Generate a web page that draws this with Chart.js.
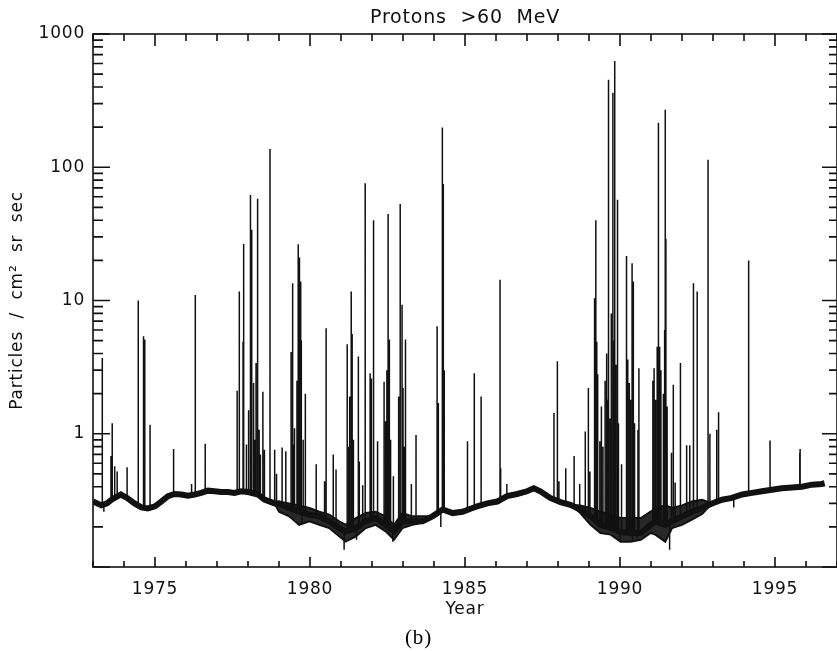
<!DOCTYPE html>
<html>
<head>
<meta charset="utf-8">
<script src="https://cdn.jsdelivr.net/npm/chart.js@4"></script>
<style>
  html, body { margin: 0; padding: 0; background: #fff; }
  #chart { display: block; }
</style>
</head>
<body>
<canvas id="chart" width="837" height="651"></canvas>
<script>
// quiet-time background flux (year, particles / cm2 sr sec)
const baseYears = [1973.0, 1973.27, 1973.45, 1973.6, 1973.9, 1974.1, 1974.34, 1974.56, 1974.77, 1975.0,
  1975.2, 1975.42, 1975.63, 1975.85, 1976.06, 1976.28, 1976.49, 1976.71, 1976.92, 1977.14,
  1977.35, 1977.56, 1977.78, 1978.0, 1978.32, 1978.53, 1978.86, 1979.0, 1979.33, 1979.65,
  1979.98, 1980.3, 1980.62, 1980.94, 1981.15, 1981.48, 1981.8, 1982.12, 1982.44, 1982.71,
  1982.98, 1983.3, 1983.63, 1983.95, 1984.28, 1984.6, 1984.92, 1985.2, 1985.39, 1985.72,
  1986.04, 1986.36, 1986.68, 1987.0, 1987.22, 1987.43, 1987.75, 1988.08, 1988.4, 1988.72,
  1989.05, 1989.37, 1989.7, 1990.02, 1990.34, 1990.67, 1990.99, 1991.14, 1991.46, 1991.68,
  1992.0, 1992.32, 1992.65, 1992.97, 1993.29, 1993.61, 1993.94, 1994.26, 1994.58, 1994.9,
  1995.22, 1995.55, 1995.87, 1996.19, 1996.51, 1996.6];
const baseValues = [0.31, 0.29, 0.30, 0.32, 0.35, 0.33, 0.30, 0.28, 0.275, 0.285,
  0.31, 0.34, 0.353, 0.35, 0.343, 0.35, 0.36, 0.374, 0.37, 0.365,
  0.365, 0.36, 0.37, 0.365, 0.35, 0.32, 0.30, 0.30, 0.277, 0.26,
  0.247, 0.24, 0.22, 0.196, 0.185, 0.196, 0.22, 0.233, 0.207, 0.185,
  0.22, 0.22, 0.22, 0.24, 0.27, 0.254, 0.26, 0.275, 0.285, 0.30,
  0.31, 0.34, 0.353, 0.37, 0.39, 0.37, 0.33, 0.307, 0.293, 0.27,
  0.24, 0.207, 0.196, 0.183, 0.18, 0.18, 0.207, 0.22, 0.207, 0.22,
  0.24, 0.26, 0.277, 0.30, 0.32, 0.33, 0.35, 0.36, 0.37, 0.38,
  0.39, 0.395, 0.40, 0.415, 0.42, 0.425];

// during the active years the background smears into a wide band: upper and lower edges
const band1Years = [1978.86, 1979.0, 1979.33, 1979.65, 1979.98, 1980.3, 1980.62, 1980.94, 1981.15,
  1981.48, 1981.8, 1982.12, 1982.44, 1982.71, 1982.98, 1983.3, 1983.63, 1983.95];
const band1High = [0.30, 0.31, 0.30, 0.29, 0.277, 0.26, 0.247, 0.22, 0.207,
  0.233, 0.254, 0.26, 0.24, 0.207, 0.254, 0.24, 0.24, 0.24];
const band1Low = [0.30, 0.26, 0.24, 0.207, 0.22, 0.207, 0.196, 0.17, 0.155,
  0.17, 0.196, 0.207, 0.185, 0.16, 0.196, 0.207, 0.215, 0.24];
const band2Years = [1988.4, 1988.72, 1989.05, 1989.37, 1989.7, 1990.02, 1990.34, 1990.67, 1990.99,
  1991.14, 1991.46, 1991.68, 1992.0, 1992.32, 1992.65, 1992.97];
const band2High = [0.293, 0.29, 0.277, 0.26, 0.247, 0.233, 0.233, 0.233, 0.26,
  0.277, 0.29, 0.277, 0.29, 0.31, 0.32, 0.30];
const band2Low = [0.293, 0.254, 0.207, 0.18, 0.175, 0.155, 0.155, 0.16, 0.18,
  0.175, 0.155, 0.196, 0.207, 0.227, 0.25, 0.30];

// solar particle events: time, peak value, flux at the foot of the spike
const spikeYears = [1973.30, 1973.35, 1973.58, 1973.62, 1973.70, 1973.78, 1974.10, 1974.46, 1974.63, 1974.67,
  1974.84, 1975.60, 1976.18, 1976.30, 1976.62,
  1977.65, 1977.72, 1977.84, 1977.86, 1977.95, 1978.08, 1978.12, 1978.26, 1978.31, 1978.36,
  1978.48, 1978.53, 1978.71, 1978.86, 1978.92, 1979.10, 1979.22, 1979.39, 1979.44, 1979.47,
  1979.62, 1979.66, 1979.70, 1979.72, 1979.74, 1979.85, 1980.20, 1980.47, 1980.52, 1980.75,
  1980.84, 1981.10, 1981.20, 1981.25, 1981.33, 1981.36, 1981.50, 1981.56, 1981.59, 1981.70,
  1981.78, 1981.94, 1981.98, 1982.05, 1982.18, 1982.39, 1982.44, 1982.52, 1982.56, 1982.67,
  1982.69, 1982.86, 1982.91, 1982.97, 1983.08, 1983.27, 1983.42,
  1984.10, 1984.14, 1984.22, 1984.27, 1984.30, 1984.33, 1985.08, 1985.30, 1985.52, 1986.13,
  1986.15, 1986.35, 1987.87, 1987.98, 1988.03, 1988.25, 1988.52, 1988.70, 1988.88, 1988.98,
  1989.03, 1989.18, 1989.22, 1989.25, 1989.35, 1989.45, 1989.52, 1989.63, 1989.68, 1989.77,
  1989.83, 1989.87, 1989.92, 1990.00, 1990.05, 1990.21, 1990.30, 1990.39, 1990.40, 1990.43,
  1990.55, 1990.58, 1990.61, 1991.06, 1991.10, 1991.20, 1991.24, 1991.28, 1991.46, 1991.48,
  1991.52, 1991.60, 1991.66, 1991.72, 1991.78, 1991.95, 1992.15, 1992.25, 1992.37, 1992.49,
  1992.84, 1992.90, 1993.12, 1993.18, 1993.67, 1994.15, 1994.84, 1995.80, 1995.81,
  // smaller spikes inside the busy periods
  1978.02, 1978.18, 1978.22, 1978.40, 1979.50, 1979.58, 1979.78, 1981.28, 1981.40, 1982.48,
  1982.60, 1983.00, 1983.04, 1989.20, 1989.28, 1989.40, 1989.57, 1989.60, 1989.72, 1989.80,
  1989.95, 1990.25, 1990.34, 1990.47, 1991.15, 1991.32, 1991.40, 1991.44];
const spikePeaks = [3.7, 0.26, 0.68, 1.2, 0.57, 0.52, 0.56, 10.0, 5.4, 5.1,
  1.17, 0.77, 0.42, 11.0, 0.84,
  2.1, 11.7, 4.9, 26.5, 0.83, 62, 34, 3.4, 58, 1.07,
  2.07, 0.76, 137, 0.76, 0.5, 0.79, 0.74, 4.1, 13.5, 0.83,
  26.4, 21, 13.9, 5.0, 0.21, 2.0, 0.59, 0.44, 6.2, 0.70,
  0.54, 0.135, 4.7, 0.8, 11.7, 5.6, 0.16, 3.8, 0.62, 0.41,
  76, 2.85, 2.6, 40, 0.88, 2.46, 1.24, 44.5, 5.1, 0.155,
  0.48, 1.9, 53, 9.3, 5.1, 0.42, 0.98,
  6.4, 1.7, 0.2, 199, 75, 3.0, 0.88, 2.85, 1.9, 14.3,
  0.55, 0.42, 1.43, 3.5, 0.44, 0.55, 0.68, 0.42, 1.04, 2.2,
  0.52, 10.4, 40, 4.9, 0.88, 0.8, 2.5, 453, 1.3, 363,
  628, 3.3, 57, 0.16, 0.59, 21.6, 2.4, 19, 0.16, 13.9,
  0.165, 1.07, 3.1, 2.5, 3.1, 4.5, 216, 4.5, 270, 29,
  1.6, 0.135, 0.72, 2.33, 0.43, 3.4, 0.82, 0.82, 13.5, 11.7,
  114, 1.0, 1.07, 1.45, 0.28, 20, 0.89, 0.72, 0.77,
  1.5, 2.4, 0.9, 0.7, 1.1, 2.5, 0.9, 1.9, 0.9, 3.0,
  0.9, 2.2, 0.8, 5.5, 2.8, 1.6, 4.0, 1.8, 8.0, 5.0,
  1.2, 3.6, 1.8, 1.2, 1.8, 3.0, 2.0, 6.0];
const spikeFeet = [0.30, 0.30, 0.32, 0.32, 0.33, 0.34, 0.33, 0.29, 0.28, 0.28,
  0.28, 0.35, 0.345, 0.35, 0.37,
  0.36, 0.36, 0.37, 0.37, 0.37, 0.36, 0.36, 0.35, 0.35, 0.35,
  0.33, 0.32, 0.31, 0.30, 0.30, 0.30, 0.29, 0.28, 0.28, 0.28,
  0.26, 0.26, 0.26, 0.26, 0.26, 0.25, 0.24, 0.23, 0.23, 0.21,
  0.20, 0.19, 0.185, 0.185, 0.19, 0.19, 0.20, 0.20, 0.20, 0.21,
  0.22, 0.23, 0.23, 0.23, 0.23, 0.21, 0.21, 0.20, 0.20, 0.185,
  0.185, 0.20, 0.21, 0.22, 0.22, 0.22, 0.22,
  0.24, 0.25, 0.25, 0.27, 0.27, 0.27, 0.26, 0.28, 0.29, 0.31,
  0.31, 0.34, 0.32, 0.31, 0.31, 0.30, 0.28, 0.27, 0.255, 0.245,
  0.24, 0.23, 0.225, 0.22, 0.21, 0.205, 0.20, 0.197, 0.196, 0.19,
  0.19, 0.188, 0.185, 0.183, 0.183, 0.18, 0.18, 0.18, 0.18, 0.18,
  0.18, 0.18, 0.18, 0.21, 0.215, 0.215, 0.215, 0.21, 0.207, 0.207,
  0.21, 0.215, 0.22, 0.22, 0.225, 0.235, 0.245, 0.25, 0.26, 0.265,
  0.29, 0.29, 0.31, 0.315, 0.33, 0.355, 0.38, 0.40, 0.40,
  0.365, 0.36, 0.355, 0.34, 0.27, 0.265, 0.255, 0.185, 0.19, 0.205,
  0.195, 0.22, 0.22, 0.23, 0.215, 0.207, 0.20, 0.198, 0.195, 0.19,
  0.185, 0.18, 0.18, 0.18, 0.215, 0.21, 0.207, 0.207];

// axis ticks
const xTicks = [1973, 1974, 1975, 1976, 1977, 1978, 1979, 1980, 1981, 1982, 1983, 1984, 1985,
  1986, 1987, 1988, 1989, 1990, 1991, 1992, 1993, 1994, 1995, 1996, 1997];
const xLabels = [1975, 1980, 1985, 1990, 1995];
const yTicks = [0.1, 0.2, 0.3, 0.4, 0.5, 0.6, 0.7, 0.8, 0.9,
  1, 2, 3, 4, 5, 6, 7, 8, 9,
  10, 20, 30, 40, 50, 60, 70, 80, 90,
  100, 200, 300, 400, 500, 600, 700, 800, 900, 1000];
const yLabels = [1, 10, 100, 1000];

const toPoints = (xs, ys) => xs.map((x, i) => ({ x: x, y: ys[i] }));
const spikeData = [];
spikeYears.forEach((x, i) => {
  spikeData.push({ x: x, y: spikeFeet[i] });
  spikeData.push({ x: x, y: spikePeaks[i] });
  spikeData.push({ x: x, y: null });
});

const ink = '#111';
const tickFont = { family: 'DejaVu Sans', size: 17, weight: 'normal' };

function bandEdge(label, data, fill) {
  return {
    label: label,
    data: data,
    borderColor: ink,
    backgroundColor: 'rgba(17,17,17,0.9)',
    borderWidth: 2,
    pointRadius: 0,
    tension: 0,
    fill: fill
  };
}

// IDL style box: frame on all four sides, ticks pointing inwards
const framePlugin = {
  id: 'frame',
  beforeDraw(chart) {
    chart.ctx.letterSpacing = '0.8px';
  },
  afterDraw(chart) {
    const { ctx, chartArea: a, scales } = chart;
    const x = scales.x;
    const y = scales.y;
    ctx.save();
    ctx.strokeStyle = ink;
    ctx.lineWidth = 1.6;
    ctx.strokeRect(a.left, a.top, a.right - a.left, a.bottom - a.top);
    ctx.beginPath();
    xTicks.forEach((v) => {
      const px = x.getPixelForValue(v);
      const major = v % 5 === 0;
      ctx.moveTo(px, a.bottom);
      ctx.lineTo(px, a.bottom - (major ? 10 : 6));
      ctx.moveTo(px, a.top);
      ctx.lineTo(px, a.top + (major ? 12 : 7));
    });
    yTicks.forEach((v) => {
      const py = y.getPixelForValue(v);
      const major = yLabels.includes(v) || v === 0.1;
      ctx.moveTo(a.left, py);
      ctx.lineTo(a.left + (major ? 17 : 10), py);
      ctx.moveTo(a.right, py);
      ctx.lineTo(a.right - (major ? 15 : 8), py);
    });
    ctx.stroke();
    ctx.restore();
  }
};

new Chart(document.getElementById('chart'), {
  type: 'line',
  data: {
    datasets: [
      {
        label: 'background',
        data: toPoints(baseYears, baseValues),
        borderColor: ink,
        borderWidth: 6,
        pointRadius: 0,
        tension: 0,
        fill: false
      },
      bandEdge('band 1 high', toPoints(band1Years, band1High), false),
      bandEdge('band 1 low', toPoints(band1Years, band1Low), '-1'),
      bandEdge('band 2 high', toPoints(band2Years, band2High), false),
      bandEdge('band 2 low', toPoints(band2Years, band2Low), '-1'),
      {
        label: 'events',
        data: spikeData,
        borderColor: ink,
        borderWidth: 1.5,
        pointRadius: 0,
        tension: 0,
        spanGaps: false,
        fill: false
      }
    ]
  },
  options: {
    responsive: false,
    animation: false,
    events: [],
    layout: { padding: 0 },
    plugins: {
      legend: { display: false },
      tooltip: { enabled: false },
      subtitle: {
        display: true,
        position: 'bottom',
        text: '(b)',
        color: '#000',
        font: { family: 'Liberation Serif', size: 21, weight: 'normal' },
        padding: { top: 3, bottom: 0.4 }
      }
    },
    scales: {
      x: {
        type: 'linear',
        min: 1973,
        max: 1997,
        afterBuildTicks: (s) => { s.ticks = xTicks.map((v) => ({ value: v })); },
        afterFit: (s) => { s.height = 55.4; s.paddingLeft = 0; s.paddingRight = 0; },
        grid: { display: false, drawTicks: false },
        border: { display: false },
        ticks: {
          autoSkip: false,
          maxRotation: 0,
          padding: 12.5,
          color: ink,
          font: tickFont,
          callback: (v) => (xLabels.includes(v) ? String(v) : '')
        },
        title: {
          display: true,
          text: 'Year',
          color: ink,
          font: tickFont,
          padding: { top: 2, bottom: 2.2 }
        }
      },
      // top axis only carries the plot title, centred over the plot box
      top: {
        type: 'linear',
        position: 'top',
        min: 1973,
        max: 1997,
        afterBuildTicks: (s) => { s.ticks = []; },
        afterFit: (s) => { s.height = 34; s.paddingLeft = 0; s.paddingRight = 0; },
        grid: { display: false, drawTicks: false },
        border: { display: false },
        ticks: { display: false },
        title: {
          display: true,
          text: 'Protons  >60  MeV',
          color: ink,
          font: { family: 'DejaVu Sans', size: 19, weight: 'normal' },
          padding: { top: 6.6, bottom: 4.6 }
        }
      },
      y: {
        type: 'logarithmic',
        min: 0.1,
        max: 1000,
        afterBuildTicks: (s) => { s.ticks = yTicks.map((v) => ({ value: v })); },
        afterFit: (s) => { s.width = 93; },
        grid: { display: false, drawTicks: false },
        border: { display: false },
        ticks: {
          autoSkip: false,
          padding: 8,
          color: ink,
          font: tickFont,
          callback: (v) => (yLabels.includes(v) ? String(v) : '')
        },
        title: {
          display: true,
          text: 'Particles  /  cm²  sr  sec',
          color: ink,
          font: tickFont,
          padding: { top: 7.3, bottom: 2 }
        }
      }
    }
  },
  plugins: [framePlugin]
});
</script>
</body>
</html>
